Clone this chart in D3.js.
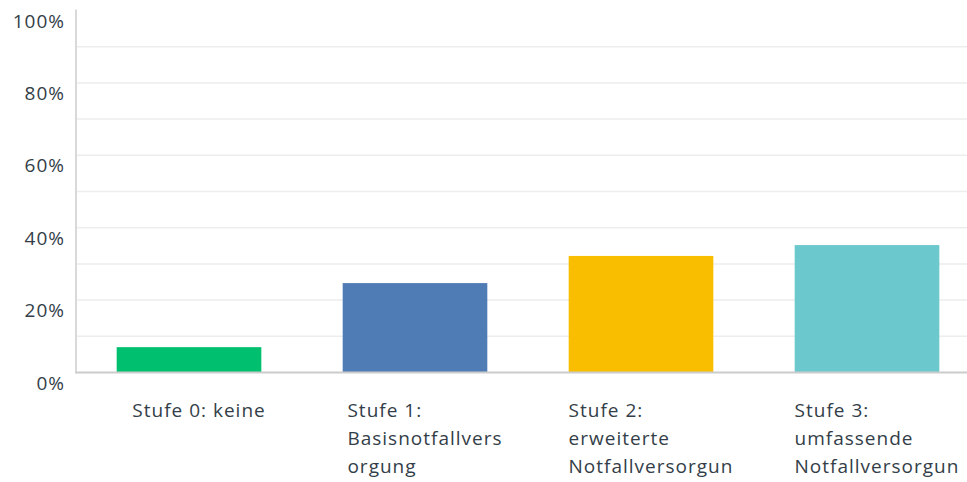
<!DOCTYPE html>
<html><head><meta charset="utf-8">
<script src="https://cdn.jsdelivr.net/npm/d3@7"></script>
<style>html,body{margin:0;padding:0;background:#fff;}svg{display:block;}</style>
</head><body>
<svg id="chart" width="967" height="482"></svg>
<script>
const categories = ["Stufe 0: keine", "Stufe 1: Basisnotfallversorgung", "Stufe 2: erweiterte Notfallversorgung", "Stufe 3: umfassende Notfallversorgung"];
const labelLines = [["Stufe 0: keine"], ["Stufe 1:", "Basisnotfallvers", "orgung"], ["Stufe 2:", "erweiterte", "Notfallversorgun"], ["Stufe 3:", "umfassende", "Notfallversorgun"]];
const values = [7.0, 24.7, 32.2, 35.2];
const colors = ["#00bf6f", "#507cb6", "#f9be00", "#6bc8cd"];
const tickValues = [0, 20, 40, 60, 80, 100];
const gridValues = [10, 20, 30, 40, 50, 60, 70, 80, 90];

const svg = d3.select("#chart");
const font = "'Open Sans', sans-serif";
const textColor = "#333e48";
const fs = 19, ls = 1;

const x = d3.scaleBand().domain(categories).range([76, 980]).paddingInner(0.36).paddingOuter(0.18);
const y = d3.scaleLinear().domain([0, 100]).range([372.5, 10.5]);

svg.append("g").selectAll("line").data(gridValues).join("line")
  .attr("x1", 77).attr("x2", 967)
  .attr("y1", d => y(d)).attr("y2", d => y(d))
  .attr("stroke", "#ededed").attr("stroke-width", 1.5);

svg.append("g").selectAll("rect").data(values).join("rect")
  .attr("x", (d, i) => x(categories[i]))
  .attr("width", x.bandwidth())
  .attr("y", d => y(d))
  .attr("height", d => y(0) - y(d))
  .attr("fill", (d, i) => colors[i]);

svg.append("line").attr("x1", 76).attr("x2", 76).attr("y1", 9.5).attr("y2", 373.5)
  .attr("stroke", "#cccccc").attr("stroke-width", 1.5);
svg.append("line").attr("x1", 75.5).attr("x2", 967).attr("y1", y(0)).attr("y2", y(0))
  .attr("stroke", "#cccccc").attr("stroke-width", 2);

svg.append("g").selectAll("text").data(tickValues).join("text")
  .attr("x", 64 + ls).attr("y", d => y(d) + 17)
  .attr("text-anchor", "end")
  .attr("font-family", font).attr("font-size", fs).attr("letter-spacing", ls)
  .attr("fill", textColor)
  .text(d => d + "%");

const lg = svg.append("g");
labelLines.forEach((lines, i) => {
  const t = lg.append("text").attr("font-family", font).attr("font-size", fs)
    .attr("letter-spacing", ls).attr("fill", textColor);
  lines.forEach((ln, j) => {
    t.append("tspan").attr("x", 0).attr("y", 417 + j * 28).text(ln);
  });
  const w = t.node().getBBox().width - ls;
  const cx = x(categories[i]) + x.bandwidth() / 2 + 9.5;
  t.selectAll("tspan").attr("x", cx - w / 2);
});
</script>
</body></html>
